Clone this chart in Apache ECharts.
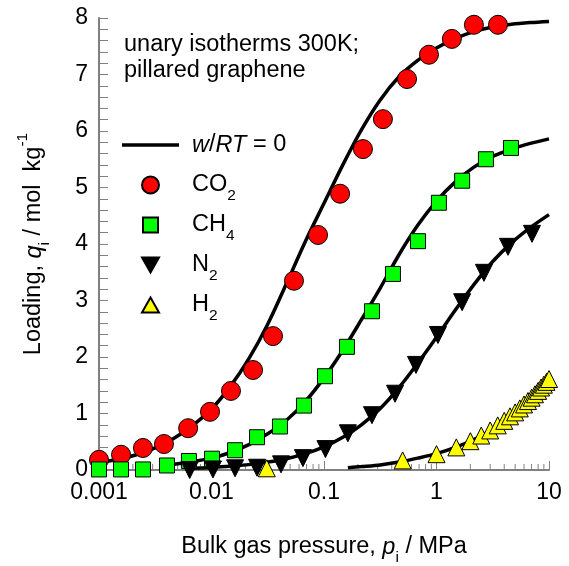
<!DOCTYPE html>
<html>
<head>
<meta charset="utf-8">
<script src="https://cdn.jsdelivr.net/npm/echarts@6/dist/echarts.min.js"></script>
<style>
  html, body { margin: 0; padding: 0; background: #ffffff; }
  #chart { width: 569px; height: 566px; }
</style>
</head>
<body>
<div id="chart"></div>
<script>
// Unary adsorption isotherms at 300 K in pillared graphene (loading vs bulk pressure)

// Decade tick labels of the pressure axis (0.001 ... 10 MPa)
const xTickLabels = ['0.001', '0.01', '0.1', '1', '10'];
const yTickValues = [0, 1, 2, 3, 4, 5, 6, 7, 8];

// Simulated loadings (symbols): pressure in MPa, loading in mol/kg
const co2P = [0.001, 0.00157, 0.00246, 0.00378, 0.0062, 0.0097, 0.0149, 0.0234, 0.0352, 0.0541, 0.0885, 0.139, 0.222, 0.334, 0.547, 0.857, 1.37, 2.15, 3.52];
const co2Q = [0.18, 0.27, 0.39, 0.46, 0.74, 1.03, 1.40, 1.77, 2.37, 3.35, 4.16, 4.89, 5.68, 6.21, 6.92, 7.35, 7.63, 7.88, 7.88];

const ch4P = [0.001, 0.00157, 0.00246, 0.00402, 0.0063, 0.0101, 0.0162, 0.0254, 0.0406, 0.0664, 0.102, 0.160, 0.267, 0.410, 0.685, 1.05, 1.69, 2.75, 4.59];
const ch4Q = [0.01, 0.01, 0.01, 0.08, 0.16, 0.20, 0.35, 0.58, 0.77, 1.14, 1.66, 2.18, 2.81, 3.47, 4.05, 4.73, 5.12, 5.50, 5.70];

const n2P = [0.0064, 0.0103, 0.0162, 0.0254, 0.0415, 0.065, 0.103, 0.163, 0.267, 0.428, 0.657, 1.03, 1.69, 2.64, 4.32, 7.06];
const n2Q = [0.0, 0.01, 0.03, 0.04, 0.10, 0.21, 0.37, 0.65, 0.97, 1.35, 1.86, 2.39, 2.97, 3.49, 3.95, 4.18];

const h2P = [0.031, 0.5, 1.0, 1.5, 2.0, 2.5, 3.0, 3.5, 4.0, 4.5, 5.0, 5.5, 6.0, 6.5, 7.0, 7.5, 8.0, 8.5, 9.0, 9.5, 10.0];
const h2Q = [0.03, 0.17, 0.28, 0.40, 0.51, 0.61, 0.70, 0.79, 0.87, 0.95, 1.02, 1.09, 1.16, 1.22, 1.28, 1.34, 1.40, 1.46, 1.51, 1.56, 1.61];

// Model isotherms for w/RT = 0 (solid curves), sampled six times per decade
const co2LineP = [0.001, 0.00147, 0.00215, 0.00316, 0.00464, 0.00681, 0.01, 0.0147, 0.0215, 0.0316, 0.0464, 0.0681, 0.1, 0.147, 0.215, 0.316, 0.464, 0.681, 1, 1.47, 2.15, 3.16, 4.64, 6.81, 10];
const co2LineQ = [0.13, 0.19, 0.27, 0.39, 0.56, 0.79, 1.08, 1.48, 1.97, 2.58, 3.30, 4.04, 4.72, 5.40, 6.02, 6.55, 6.96, 7.25, 7.47, 7.64, 7.76, 7.84, 7.89, 7.92, 7.94];

const ch4LineP = [0.0042, 0.00464, 0.00681, 0.01, 0.0147, 0.0215, 0.0316, 0.0464, 0.0681, 0.1, 0.147, 0.215, 0.316, 0.464, 0.681, 1, 1.47, 2.15, 3.16, 4.64, 6.81, 10];
const ch4LineQ = [0.09, 0.10, 0.15, 0.21, 0.31, 0.45, 0.64, 0.88, 1.21, 1.63, 2.12, 2.66, 3.22, 3.81, 4.33, 4.76, 5.10, 5.36, 5.55, 5.68, 5.78, 5.86];

const n2LineP = [0.0062, 0.01, 0.0147, 0.0215, 0.0316, 0.0464, 0.0681, 0.1, 0.147, 0.215, 0.316, 0.464, 0.681, 1, 1.47, 2.15, 3.16, 4.64, 6.81, 10];
const n2LineQ = [0.03, 0.045, 0.065, 0.095, 0.14, 0.20, 0.29, 0.41, 0.58, 0.80, 1.09, 1.46, 1.89, 2.35, 2.83, 3.28, 3.69, 4.02, 4.29, 4.52];

const h2LineP = [0.163, 0.215, 0.316, 0.464, 0.681, 1, 1.47, 2.15, 3.16, 4.64, 6.81, 10];
const h2LineQ = [0.04, 0.06, 0.09, 0.14, 0.21, 0.29, 0.40, 0.54, 0.72, 0.96, 1.27, 1.61];

const legendNames = {
  'w/RT = 0': '{i|w}/{i|RT} = 0',
  'CO2': 'CO{s|2}',
  'CH4': 'CH{s|4}',
  'N2': 'N{s|2}',
  'H2': 'H{s|2}'
};

const FONT = '"Liberation Sans", Arial, sans-serif';
const AXIS_GREY = '#808080';
const TEXT_SIZE = 23.5;
// a tall line box lets the small sub/superscript tokens sit at its bottom/top edge
const LINE_BOX = 38;

// minor ticks of the log axis at 2..9 within each decade
const xMinorTicks = [];
[0.001, 0.01, 0.1, 1].forEach(function (base) {
  for (let k = 2; k <= 9; k++) xMinorTicks.push([base * k, 0]);
});

function pairs(xs, ys) {
  return xs.map(function (x, i) { return [x, ys[i]]; });
}

const richText = {
  i: { fontFamily: FONT, fontSize: TEXT_SIZE, fontStyle: 'italic', color: '#000', lineHeight: LINE_BOX },
  s: { fontFamily: FONT, fontSize: 15.5, color: '#000', verticalAlign: 'bottom' },
  sup: { fontFamily: FONT, fontSize: 15.5, color: '#000', verticalAlign: 'top' }
};

function curve(xs, ys) {
  return {
    name: 'w/RT = 0',
    type: 'line',
    data: pairs(xs, ys),
    symbol: 'none',
    smooth: 0.3,
    clip: false,
    z: 2,
    lineStyle: { color: '#000', width: 3.5 },
    itemStyle: { color: '#000' },
    emphasis: { disabled: true },
    silent: true
  };
}

function markers(name, xs, ys, symbol, size, fill, rotate) {
  return {
    name: name,
    type: 'scatter',
    data: pairs(xs, ys),
    symbol: symbol,
    symbolSize: size,
    symbolRotate: rotate || 0,
    clip: false,
    z: 3,
    itemStyle: { color: fill, borderColor: '#000', borderWidth: 1, opacity: 1 },
    emphasis: { disabled: true },
    silent: true
  };
}

const chart = echarts.init(document.getElementById('chart'), null, { renderer: 'canvas' });

chart.setOption({
  animation: false,
  backgroundColor: '#ffffff',
  title: {
    text: 'unary isotherms 300K;\npillared graphene',
    left: 124,
    top: 32,
    padding: 0,
    textStyle: { fontFamily: FONT, fontSize: TEXT_SIZE, fontWeight: 'normal', color: '#000', lineHeight: 26 }
  },
  legend: {
    orient: 'vertical',
    left: 122,
    top: 126,
    padding: 0,
    itemWidth: 57,
    itemHeight: 17,
    itemGap: 2,
    selectedMode: false,
    symbolKeepAspect: true,
    data: [
      { name: 'w/RT = 0', icon: 'path://M0,0H64V4H0Z' },
      { name: 'CO2', icon: 'circle' },
      { name: 'CH4', icon: 'path://M-1,-1M0,0H15V15H0ZM16,16' },
      { name: 'N2', icon: 'path://M0,-1M0,0H17L8.5,15ZM17,16' },
      { name: 'H2', icon: 'path://M0,-1M8.5,0L17,15H0ZM17,16' }
    ],
    formatter: function (name) { return legendNames[name]; },
    textStyle: {
      fontFamily: FONT, fontSize: TEXT_SIZE, color: '#000', lineHeight: LINE_BOX,
      padding: [0, 0, 0, 8],
      rich: richText
    }
  },
  grid: { left: 99, right: 20, top: 18, bottom: 96, containLabel: false, outerBoundsMode: 'none' },
  xAxis: {
    type: 'log',
    logBase: 10,
    min: 0.001,
    max: 10,
    name: 'Bulk gas pressure, {i|p}{s|i} / MPa',
    nameLocation: 'middle',
    nameGap: 58,
    nameTextStyle: { fontFamily: FONT, fontSize: TEXT_SIZE, color: '#000', lineHeight: LINE_BOX, rich: richText },
    axisLine: { show: true, onZero: false, lineStyle: { color: AXIS_GREY, width: 2 } },
    axisTick: { show: true, inside: true, length: 9, lineStyle: { color: AXIS_GREY, width: 1 } },
    axisLabel: {
      fontFamily: FONT, fontSize: 23, color: '#000', margin: 11,
      formatter: function (v) { return xTickLabels[Math.round(Math.log10(v)) + 3]; }
    },
    splitLine: { show: false },
    minorTick: { show: false }
  },
  yAxis: {
    type: 'value',
    min: 0,
    max: 8,
    interval: 1,
    name: 'Loading, {i|q}{s|i} / mol  kg{sup|-1}',
    nameLocation: 'middle',
    nameRotate: 90,
    nameGap: 46,
    nameTextStyle: { fontFamily: FONT, fontSize: TEXT_SIZE, color: '#000', lineHeight: LINE_BOX, rich: richText },
    axisLine: { show: true, lineStyle: { color: AXIS_GREY, width: 2 } },
    axisTick: { show: true, inside: true, length: 9, lineStyle: { color: AXIS_GREY, width: 1 } },
    minorTick: { show: true, splitNumber: 5, length: 9, lineStyle: { color: AXIS_GREY, width: 1 } },
    axisLabel: {
      fontFamily: FONT, fontSize: 23, color: '#000', margin: 11,
      formatter: function (v) { return yTickValues.indexOf(v) >= 0 ? String(v) : ''; }
    },
    splitLine: { show: false }
  },
  series: [
    {
      name: 'minor ticks',
      type: 'custom',
      data: xMinorTicks,
      clip: false,
      silent: true,
      z: 1,
      renderItem: function (params, api) {
        const p = api.coord([api.value(0), 0]);
        return {
          type: 'line',
          shape: { x1: p[0], y1: p[1], x2: p[0], y2: p[1] - 6 },
          style: { stroke: AXIS_GREY, lineWidth: 1 }
        };
      }
    },
    curve(co2LineP, co2LineQ),
    curve(ch4LineP, ch4LineQ),
    curve(n2LineP, n2LineQ),
    curve(h2LineP, h2LineQ),
    markers('CO2', co2P, co2Q, 'circle', 19, '#ff0000'),
    markers('CH4', ch4P, ch4Q, 'rect', 15, '#00ff00'),
    markers('N2', n2P, n2Q, 'triangle', 17, '#000000', 180),
    markers('H2', h2P, h2Q, 'triangle', 17, '#ffff00')
  ]
});
</script>
</body>
</html>
